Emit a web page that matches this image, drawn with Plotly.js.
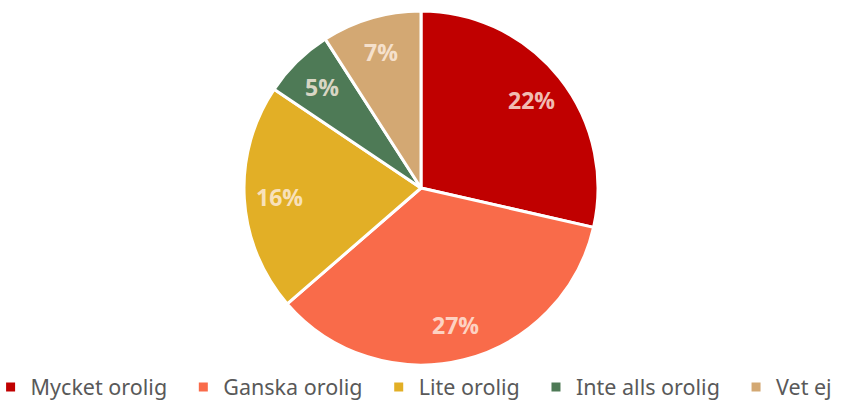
<!DOCTYPE html>
<html>
<head>
<meta charset="utf-8">
<script src="https://cdn.plot.ly/plotly-3.0.1.min.js"></script>
<style>html,body{margin:0;padding:0;background:#fff;}#chart{width:855px;height:403px;}</style>
</head>
<body>
<div id="chart"></div>
<script>
const categories = ["Mycket orolig", "Ganska orolig", "Lite orolig", "Inte alls orolig", "Vet ej"];
const values = [22, 27, 16, 5, 7];
const colors = ["#C00000", "#F96B4A", "#E2AF26", "#4E7A56", "#D3A873"];

const W = 855, H = 403;
const domX = [244 / W, 598 / W];
const domY = [38 / H, 392 / H];

const trace = {
  type: "pie",
  labels: categories.map((c, i) => i < categories.length - 1 ? c + "\u00a0\u00a0" : c),
  values: values,
  sort: false,
  direction: "clockwise",
  rotation: 0,
  marker: {colors: colors, line: {color: "#FFFFFF", width: 3}},
  textinfo: "none",
  hoverinfo: "label+value",
  domain: {x: domX, y: domY}
};

// value labels placed along each slice's mid-angle, derived from the values
const total = values.reduce((a, b) => a + b, 0);
const cxPx = (domX[0] + domX[1]) / 2 * W;
const cyPx = (1 - (domY[0] + domY[1]) / 2) * H;
const Rpx = Math.min((domX[1] - domX[0]) * W, (domY[1] - domY[0]) * H) / 2;
const labelFrac = 0.8;
let cum = 0;
const annotations = values.map((v, i) => {
  const mid = (cum + v / 2) / total * 2 * Math.PI;
  cum += v;
  const px = cxPx + Math.sin(mid) * Rpx * labelFrac;
  const py = cyPx - Math.cos(mid) * Rpx * labelFrac;
  return {
    xref: "paper", yref: "paper",
    x: px / W, y: 1 - py / H,
    xanchor: "center", yanchor: "middle",
    showarrow: false,
    text: "<b>" + v + "%</b>",
    font: {family: "Open Sans, sans-serif", size: 23, color: "rgba(255,240,228,0.8)"}
  };
});

const layout = {
  width: W,
  height: H,
  margin: {l: 0, r: 0, t: 0, b: 0, autoexpand: false},
  paper_bgcolor: "#FFFFFF",
  showlegend: true,
  annotations: annotations,
  legend: {
    orientation: "h",
    x: -0.011,
    xanchor: "left",
    y: -0.011,
    yanchor: "bottom",
    font: {family: "Noto Sans, sans-serif", size: 21.5, color: "#595959"},
    itemwidth: 30,
    traceorder: "normal"
  }
};

Plotly.newPlot("chart", [trace], layout, {displayModeBar: false, staticPlot: true});
</script>
</body>
</html>
